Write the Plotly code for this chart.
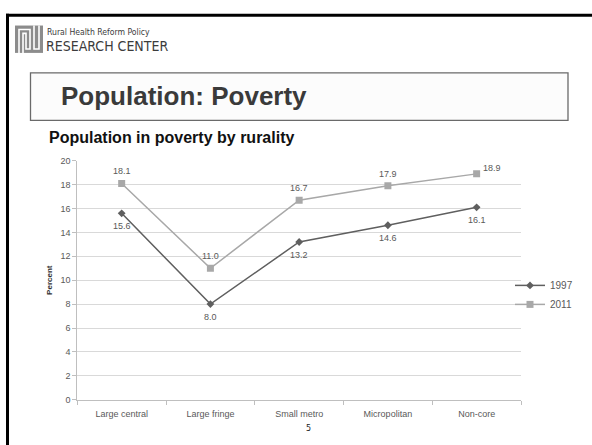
import plotly.graph_objects as go

W, H = 592, 445

categories = ["Large central", "Large fringe", "Small metro", "Micropolitan", "Non-core"]
pct_1997 = [15.6, 8.0, 13.2, 14.6, 16.1]
pct_2011 = [18.1, 11.0, 16.7, 17.9, 18.9]
y_ticks = [0, 2, 4, 6, 8, 10, 12, 14, 16, 18, 20]


def px(x):
    return x / W


def py(y):
    return 1 - y / H


label_font = dict(family="Liberation Sans, Arial, sans-serif", size=9, color="#595959")

fig = go.Figure()
fig.add_trace(go.Scatter(
    x=categories, y=pct_1997, name="1997", mode="lines+markers",
    line=dict(color="#5f5f5f", width=1.5),
    marker=dict(symbol="diamond", size=6, color="#5f5f5f"),
))
fig.add_trace(go.Scatter(
    x=categories, y=pct_2011, name="2011", mode="lines+markers",
    line=dict(color="#a8a8a8", width=1.5),
    marker=dict(symbol="square", size=7, color="#a8a8a8"),
))

shapes = [
    # slide frame
    dict(type="rect", xref="paper", yref="paper", x0=px(6), x1=px(W + 5), y0=py(9), y1=py(12),
         fillcolor="#000", line_width=0),
    dict(type="rect", xref="paper", yref="paper", x0=px(6), x1=px(9), y0=py(9), y1=py(H + 5),
         fillcolor="#000", line_width=0),
    # title box
    dict(type="rect", xref="paper", yref="paper", x0=px(30.5), x1=px(568), y0=py(69.5), y1=py(118),
         fillcolor="#fcfcfc", line=dict(color="#6a6a6a", width=1.3)),
    # logo block
    dict(type="rect", xref="paper", yref="paper", x0=px(15), x1=px(43), y0=py(21), y1=py(49),
         fillcolor="#8c8c8c", line_width=0),
]
# white channels in the logo
logo_paths = [
    [(19, 49), (19, 25), (30, 25), (30, 45), (26, 45), (26, 29), (23, 29), (23, 49)],
    [(34, 21), (34, 45), (39, 45), (39, 21)],
]
for pts in logo_paths:
    d = "M " + " L ".join(f"{px(x)},{py(y)}" for x, y in pts)
    shapes.append(dict(type="path", xref="paper", yref="paper", path=d,
                       line=dict(color="#ffffff", width=1.6)))

annotations = [
    dict(text="Rural Health Reform Policy", x=px(44.5), y=py(27.5), xanchor="left", yanchor="middle",
         font=dict(family="DejaVu Sans Condensed, sans-serif", size=8.6, color="#3c3c3c")),
    dict(text="RESEARCH CENTER", x=px(44), y=py(41.5), xanchor="left", yanchor="middle",
         font=dict(family="DejaVu Sans Condensed, sans-serif", size=14, color="#3c3c3c")),
    dict(text="<b>Population: Poverty</b>", x=px(59), y=py(93.5), xanchor="left", yanchor="middle",
         font=dict(family="Liberation Sans, Arial, sans-serif", size=26, color="#3a3a3a")),
    dict(text="<b>Population in poverty by rurality</b>", x=px(47), y=py(136), xanchor="left", yanchor="middle",
         font=dict(family="Liberation Sans, Arial, sans-serif", size=16, color="#111111")),
    dict(text="5", x=px(308), y=py(433), xanchor="center", yanchor="middle",
         font=dict(family="DejaVu Sans, sans-serif", size=8, color="#222")),
]
for a in annotations:
    a.update(xref="paper", yref="paper", showarrow=False)

# value labels: 1997 below each point, 2011 above (last one to the upper right)
for i, (c, v) in enumerate(zip(categories, pct_1997)):
    annotations.append(dict(x=c, y=v, xref="x", yref="y", text=f"{v:.1f}", showarrow=False,
                            yshift=-13, font=label_font))
for i, (c, v) in enumerate(zip(categories, pct_2011)):
    last = i == len(categories) - 1
    annotations.append(dict(x=c, y=v, xref="x", yref="y", text=f"{v:.1f}", showarrow=False,
                            xshift=15 if last else 0, yshift=6 if last else 12, font=label_font))

fig.update_layout(
    width=W, height=H, margin=dict(l=0, r=0, t=0, b=0),
    paper_bgcolor="white", plot_bgcolor="white",
    shapes=shapes, annotations=annotations,
    showlegend=True,
    legend=dict(x=px(510), y=py(272), xanchor="left", yanchor="top",
                font=dict(family="Liberation Sans, Arial, sans-serif", size=10, color="#595959"),
                itemwidth=30, tracegroupgap=0, bgcolor="rgba(0,0,0,0)"),
    xaxis=dict(domain=[px(77.3), px(521)], type="category", range=[-0.5, 4.5],
               showline=True, linecolor="#bfbfbf", linewidth=1,
               ticks="outside", tickson="boundaries", ticklen=4, tickcolor="#bfbfbf",
               ticklabelstandoff=5,
               showgrid=False, tickfont=dict(family="Liberation Sans, Arial, sans-serif", size=9, color="#595959")),
    yaxis=dict(domain=[py(403.8), py(159.3)], range=[0, 20], tickvals=y_ticks,
               showline=True, linecolor="#bfbfbf", linewidth=1,
               ticks="outside", ticklen=4, tickcolor="#bfbfbf",
               showgrid=True, gridcolor="#d9d9d9", gridwidth=1, zeroline=False,
               tickfont=dict(family="Liberation Sans, Arial, sans-serif", size=9, color="#595959"),
               title=dict(text="<b>Percent</b>", standoff=6,
                          font=dict(family="Liberation Sans, Arial, sans-serif", size=8, color="#333"))),
)

fig.write_html("out.html")
